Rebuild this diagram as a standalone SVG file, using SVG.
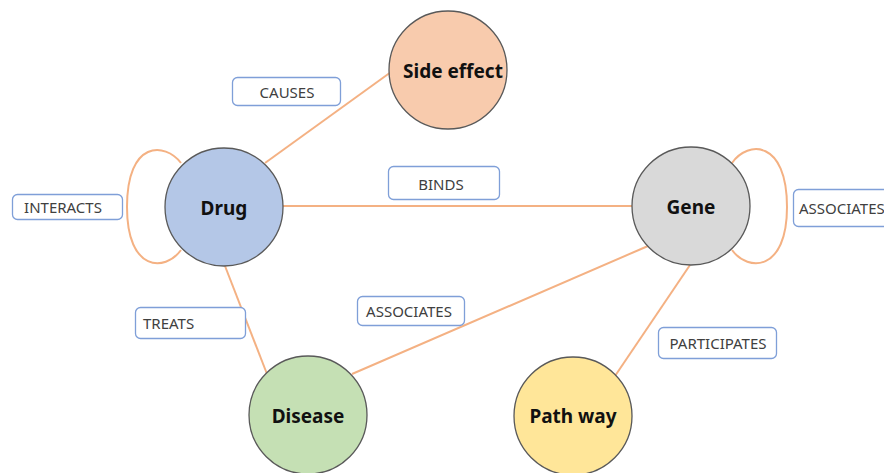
<svg xmlns="http://www.w3.org/2000/svg" width="884" height="473" viewBox="0 0 884 473">
<style>
.edge{fill:none;stroke:#f4b183;stroke-width:2}
.node{stroke:#595959;stroke-width:1.3}
.nt{font-family:"Noto Sans","Open Sans",sans-serif;font-weight:bold;font-size:19px;fill:#111;text-anchor:middle;dominant-baseline:central}
.lb{fill:#fff;stroke:#7f9fd8;stroke-width:1.3}
.lt{font-family:"Noto Sans","Open Sans",sans-serif;font-size:15px;fill:#404040;dominant-baseline:central}
.c{text-anchor:middle}
</style>
<rect width="884" height="473" fill="#fff"/>
<g id="connectors">
<line class="edge" x1="265" y1="163" x2="391" y2="72"/>
<line class="edge" x1="283" y1="206" x2="632" y2="206"/>
<line class="edge" x1="225" y1="266" x2="267" y2="374"/>
<line class="edge" x1="648" y1="246" x2="352" y2="374"/>
<line class="edge" x1="690" y1="265" x2="615" y2="376"/>
<path class="edge" d="M181,163 C165,142 127,140 127,207 C127,272 165,272 181,250"/>
<path class="edge" d="M732,163 C748,140 787,140 787,207 C787,272 748,272 732,250"/>
</g>
<g id="labels">
<g id="lbl-causes"><rect class="lb" x="232.5" y="77.5" width="108" height="28" rx="5"/><text class="lt c" x="287" y="91.5">CAUSES</text></g>
<g id="lbl-binds"><rect class="lb" x="388.5" y="166.5" width="111" height="33" rx="5"/><text class="lt c" x="441" y="184">BINDS</text></g>
<g id="lbl-interacts"><rect class="lb" x="12.5" y="194.5" width="110" height="25" rx="5"/><text class="lt c" x="63" y="207">INTERACTS</text></g>
<g id="lbl-assoc-gene"><rect class="lb" x="793.5" y="189.5" width="100" height="37" rx="5"/><text class="lt" x="799" y="208">ASSOCIATES</text></g>
<g id="lbl-treats"><rect class="lb" x="135.5" y="307.5" width="110" height="31" rx="5"/><text class="lt" x="143" y="323">TREATS</text></g>
<g id="lbl-assoc"><rect class="lb" x="357.5" y="296.5" width="107" height="29" rx="5"/><text class="lt c" x="409" y="311">ASSOCIATES</text></g>
<g id="lbl-participates"><rect class="lb" x="658.5" y="327.5" width="118" height="31" rx="5"/><text class="lt c" x="718" y="343">PARTICIPATES</text></g>
</g>
<g id="node-side-effect"><circle class="node" cx="448" cy="70" r="59" fill="#f8cbad"/><text class="nt" x="453" y="71">Side effect</text></g>
<g id="node-drug"><circle class="node" cx="224" cy="207" r="59" fill="#b4c7e7"/><text class="nt" x="224" y="208">Drug</text></g>
<g id="node-gene"><circle class="node" cx="691" cy="206" r="59" fill="#d9d9d9"/><text class="nt" x="691" y="207">Gene</text></g>
<g id="node-disease"><circle class="node" cx="308" cy="415" r="59" fill="#c5e0b4"/><text class="nt" x="308" y="416">Disease</text></g>
<g id="node-pathway"><circle class="node" cx="573" cy="416" r="59" fill="#ffe699"/><text class="nt" x="573" y="416">Path way</text></g>
</svg>
